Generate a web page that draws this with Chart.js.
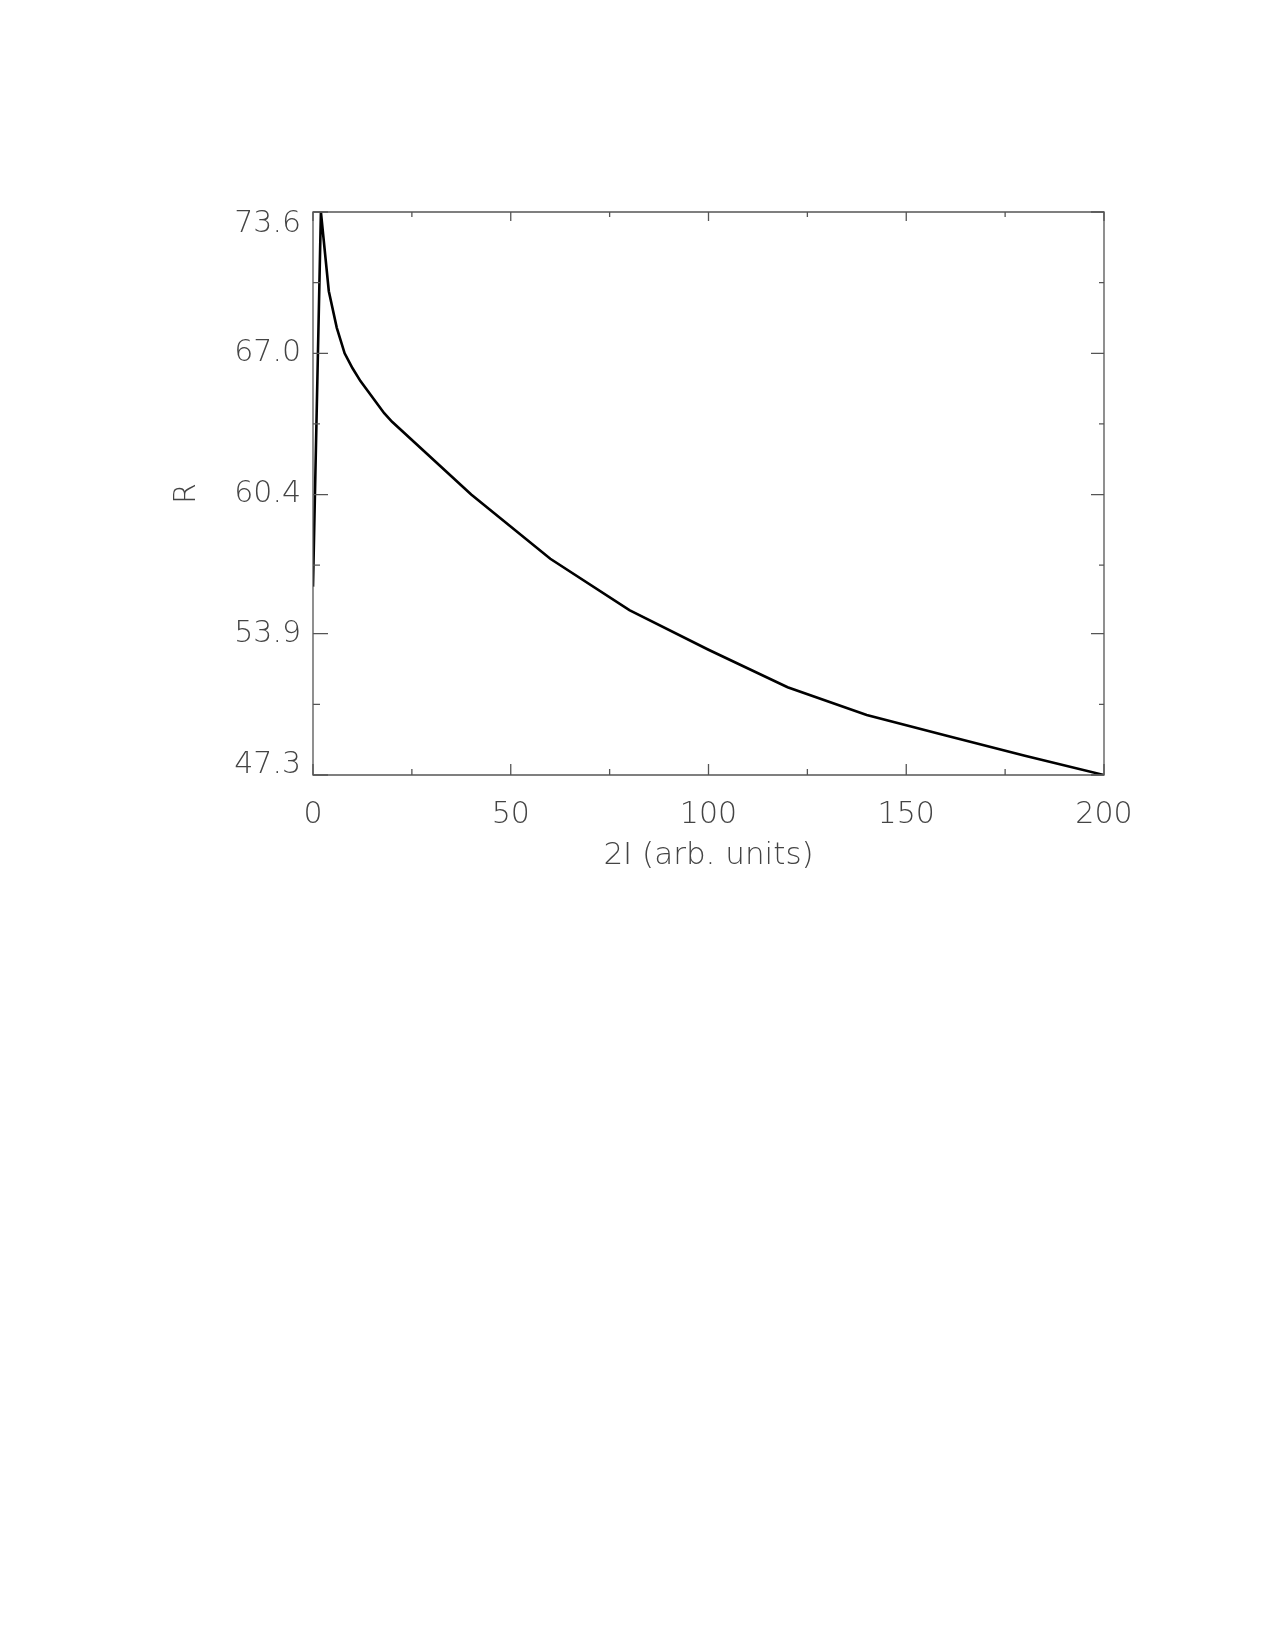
<!DOCTYPE html>
<html>
<head>
<meta charset="utf-8">
<script src="https://cdn.jsdelivr.net/npm/chart.js@4.4.1/dist/chart.umd.min.js"></script>
<style>
  html, body { margin: 0; padding: 0; background: #fff; }
  #wrap { position: absolute; left: 0; top: 0; width: 1275px; height: 1650px; }
</style>
</head>
<body>
<div id="wrap"><canvas id="rChart"></canvas></div>
<script>
// 2I values (arb. units) and R
const currentX = [0, 2, 4, 6, 8, 10, 12, 14, 16, 18, 20, 40, 60, 80, 100, 120, 140, 160, 180, 200];
const rValues = [56.1, 73.6, 69.9, 68.2, 67.0, 66.3, 65.7, 65.2, 64.7, 64.2, 63.8, 60.4, 57.4, 55.0, 53.15, 51.4, 50.1, 49.15, 48.2, 47.3];

const xMajorTicks = [0, 50, 100, 150, 200];
const xMinorTicks = [25, 75, 125, 175];
const yTicks = [47.3, 50.6, 53.9, 57.1, 60.4, 63.7, 67.0, 70.3, 73.6];
const yLabels = ['47.3', '', '53.9', '', '60.4', '', '67.0', '', '73.6'];

const axisColor = '#555';
const textColor = '#444';
const fontFamily = '"DejaVu Sans", "Liberation Sans", sans-serif';

// inward tick marks on all four sides, like the original plot
const innerTicks = {
    id: 'innerTicks',
    afterDraw(chart) {
        const ctx = chart.ctx;
        const area = chart.chartArea;
        const xs = chart.scales.x;
        const ys = chart.scales.y;
        ctx.save();
        ctx.strokeStyle = axisColor;
        ctx.lineWidth = 1.3;
        ctx.beginPath();
        ctx.rect(area.left, area.top, area.right - area.left, area.bottom - area.top);
        ctx.stroke();

        ctx.beginPath();
        xMajorTicks.forEach(v => {
            const px = xs.getPixelForValue(v);
            ctx.moveTo(px, area.bottom); ctx.lineTo(px, area.bottom - 11);
            ctx.moveTo(px, area.top); ctx.lineTo(px, area.top + 9);
        });
        xMinorTicks.forEach(v => {
            const px = xs.getPixelForValue(v);
            ctx.moveTo(px, area.bottom); ctx.lineTo(px, area.bottom - 6);
            ctx.moveTo(px, area.top); ctx.lineTo(px, area.top + 5);
        });
        yTicks.forEach((v, i) => {
            const py = ys.getPixelForValue(v);
            const major = i % 2 === 0;
            ctx.moveTo(area.left, py); ctx.lineTo(area.left + (major ? 15 : 7), py);
            ctx.moveTo(area.right, py); ctx.lineTo(area.right - (major ? 13 : 5), py);
        });
        ctx.stroke();
        ctx.restore();
    }
};

// the end labels sit inside the frame: an empty second line nudges them
function yTickLabel(v, i) {
    if (i === yTicks.length - 1) return ['', yLabels[i]];
    if (i === 0) return [yLabels[i], ''];
    return yLabels[i];
}

function yTickFont(c) {
    let lh = 1.2;
    if (c.index === yTicks.length - 1) lh = '25px';
    if (c.index === 0) lh = '19px';
    return { family: fontFamily, size: 30, weight: 200, lineHeight: lh };
}

function initChart() {
    const ctx = document.getElementById('rChart').getContext('2d');
    new Chart(ctx, {
        type: 'line',
        data: {
            datasets: [{
                label: 'R',
                data: currentX.map((x, i) => ({ x: x, y: rValues[i] })),
                borderColor: '#000',
                borderWidth: 2.6,
                pointRadius: 0,
                fill: false,
                tension: 0
            }]
        },
        options: {
            responsive: true,
            maintainAspectRatio: false,
            animation: false,
            devicePixelRatio: 1,
            layout: {
                padding: { left: 169, top: 212, right: 171, bottom: 775 }
            },
            plugins: {
                legend: { display: false },
                tooltip: { enabled: false }
            },
            scales: {
                x: {
                    type: 'linear',
                    min: 0,
                    max: 200,
                    afterBuildTicks: s => { s.ticks = xMajorTicks.map(v => ({ value: v })); },
                    afterFit: s => { s.height = 100; },
                    grid: { display: false, drawTicks: false },
                    border: { display: false },
                    ticks: {
                        padding: 22,
                        color: textColor,
                        maxRotation: 0,
                        font: { family: fontFamily, size: 30, weight: 200 }
                    },
                    title: {
                        display: true,
                        text: '2I (arb. units)',
                        color: textColor,
                        padding: { top: 0, bottom: 0 },
                        font: { family: fontFamily, size: 31, weight: 200 }
                    }
                },
                y: {
                    type: 'linear',
                    min: 47.3,
                    max: 73.6,
                    afterBuildTicks: s => { s.ticks = yTicks.map(v => ({ value: v })); },
                    afterFit: s => { s.width = 144; },
                    grid: { display: false, drawTicks: false },
                    border: { display: false },
                    ticks: {
                        padding: 12,
                        color: textColor,
                        font: yTickFont,
                        callback: yTickLabel
                    },
                    title: {
                        display: true,
                        text: 'R',
                        color: textColor,
                        padding: { top: 0, bottom: 0 },
                        font: { family: fontFamily, size: 30, weight: 200 }
                    }
                }
            }
        },
        plugins: [innerTicks]
    });
}

document.addEventListener('DOMContentLoaded', function () {
    initChart();
});
</script>
</body>
</html>
